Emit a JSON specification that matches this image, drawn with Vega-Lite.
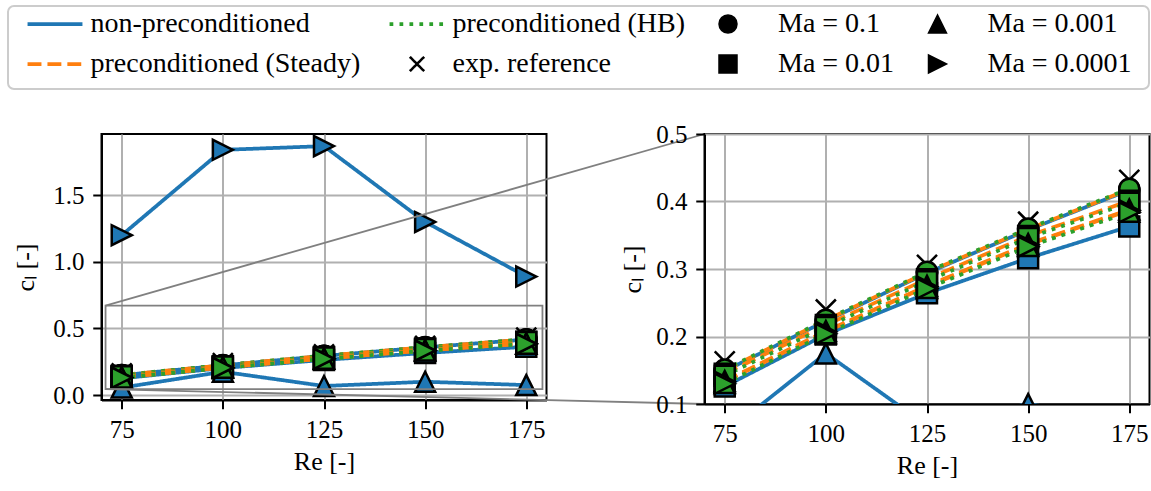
{
  "$schema": "https://vega.github.io/schema/vega-lite/v6.json",
  "padding": 5,
  "background": "white",
  "datasets": {
    "curves": [
      {"method": "non-preconditioned", "Ma": "Ma = 0.1", "Re": 75, "cL": 0.149},
      {"method": "non-preconditioned", "Ma": "Ma = 0.1", "Re": 100, "cL": 0.223},
      {"method": "non-preconditioned", "Ma": "Ma = 0.1", "Re": 125, "cL": 0.294},
      {"method": "non-preconditioned", "Ma": "Ma = 0.1", "Re": 150, "cL": 0.358},
      {"method": "non-preconditioned", "Ma": "Ma = 0.1", "Re": 175, "cL": 0.417},
      {"method": "preconditioned (Steady)", "Ma": "Ma = 0.1", "Re": 75, "cL": 0.150},
      {"method": "preconditioned (Steady)", "Ma": "Ma = 0.1", "Re": 100, "cL": 0.224},
      {"method": "preconditioned (Steady)", "Ma": "Ma = 0.1", "Re": 125, "cL": 0.295},
      {"method": "preconditioned (Steady)", "Ma": "Ma = 0.1", "Re": 150, "cL": 0.359},
      {"method": "preconditioned (Steady)", "Ma": "Ma = 0.1", "Re": 175, "cL": 0.418},
      {"method": "preconditioned (HB)", "Ma": "Ma = 0.1", "Re": 75, "cL": 0.151},
      {"method": "preconditioned (HB)", "Ma": "Ma = 0.1", "Re": 100, "cL": 0.225},
      {"method": "preconditioned (HB)", "Ma": "Ma = 0.1", "Re": 125, "cL": 0.296},
      {"method": "preconditioned (HB)", "Ma": "Ma = 0.1", "Re": 150, "cL": 0.360},
      {"method": "preconditioned (HB)", "Ma": "Ma = 0.1", "Re": 175, "cL": 0.419},
      {"method": "non-preconditioned", "Ma": "Ma = 0.01", "Re": 75, "cL": 0.126},
      {"method": "non-preconditioned", "Ma": "Ma = 0.01", "Re": 100, "cL": 0.203},
      {"method": "non-preconditioned", "Ma": "Ma = 0.01", "Re": 125, "cL": 0.264},
      {"method": "non-preconditioned", "Ma": "Ma = 0.01", "Re": 150, "cL": 0.316},
      {"method": "non-preconditioned", "Ma": "Ma = 0.01", "Re": 175, "cL": 0.363},
      {"method": "preconditioned (Steady)", "Ma": "Ma = 0.01", "Re": 75, "cL": 0.145},
      {"method": "preconditioned (Steady)", "Ma": "Ma = 0.01", "Re": 100, "cL": 0.217},
      {"method": "preconditioned (Steady)", "Ma": "Ma = 0.01", "Re": 125, "cL": 0.285},
      {"method": "preconditioned (Steady)", "Ma": "Ma = 0.01", "Re": 150, "cL": 0.349},
      {"method": "preconditioned (Steady)", "Ma": "Ma = 0.01", "Re": 175, "cL": 0.401},
      {"method": "preconditioned (HB)", "Ma": "Ma = 0.01", "Re": 75, "cL": 0.142},
      {"method": "preconditioned (HB)", "Ma": "Ma = 0.01", "Re": 100, "cL": 0.214},
      {"method": "preconditioned (HB)", "Ma": "Ma = 0.01", "Re": 125, "cL": 0.282},
      {"method": "preconditioned (HB)", "Ma": "Ma = 0.01", "Re": 150, "cL": 0.346},
      {"method": "preconditioned (HB)", "Ma": "Ma = 0.01", "Re": 175, "cL": 0.398},
      {"method": "non-preconditioned", "Ma": "Ma = 0.001", "Re": 75, "cL": 0.056},
      {"method": "non-preconditioned", "Ma": "Ma = 0.001", "Re": 100, "cL": 0.175},
      {"method": "non-preconditioned", "Ma": "Ma = 0.001", "Re": 125, "cL": 0.068},
      {"method": "non-preconditioned", "Ma": "Ma = 0.001", "Re": 150, "cL": 0.100},
      {"method": "non-preconditioned", "Ma": "Ma = 0.001", "Re": 175, "cL": 0.075},
      {"method": "preconditioned (Steady)", "Ma": "Ma = 0.001", "Re": 75, "cL": 0.134},
      {"method": "preconditioned (Steady)", "Ma": "Ma = 0.001", "Re": 100, "cL": 0.208},
      {"method": "preconditioned (Steady)", "Ma": "Ma = 0.001", "Re": 125, "cL": 0.275},
      {"method": "preconditioned (Steady)", "Ma": "Ma = 0.001", "Re": 150, "cL": 0.337},
      {"method": "preconditioned (Steady)", "Ma": "Ma = 0.001", "Re": 175, "cL": 0.388},
      {"method": "preconditioned (HB)", "Ma": "Ma = 0.001", "Re": 75, "cL": 0.131},
      {"method": "preconditioned (HB)", "Ma": "Ma = 0.001", "Re": 100, "cL": 0.205},
      {"method": "preconditioned (HB)", "Ma": "Ma = 0.001", "Re": 125, "cL": 0.272},
      {"method": "preconditioned (HB)", "Ma": "Ma = 0.001", "Re": 150, "cL": 0.334},
      {"method": "preconditioned (HB)", "Ma": "Ma = 0.001", "Re": 175, "cL": 0.385},
      {"method": "non-preconditioned", "Ma": "Ma = 0.0001", "Re": 75, "cL": 1.200},
      {"method": "non-preconditioned", "Ma": "Ma = 0.0001", "Re": 100, "cL": 1.841},
      {"method": "non-preconditioned", "Ma": "Ma = 0.0001", "Re": 125, "cL": 1.869},
      {"method": "non-preconditioned", "Ma": "Ma = 0.0001", "Re": 150, "cL": 1.300},
      {"method": "non-preconditioned", "Ma": "Ma = 0.0001", "Re": 175, "cL": 0.890},
      {"method": "preconditioned (Steady)", "Ma": "Ma = 0.0001", "Re": 75, "cL": 0.133},
      {"method": "preconditioned (Steady)", "Ma": "Ma = 0.0001", "Re": 100, "cL": 0.207},
      {"method": "preconditioned (Steady)", "Ma": "Ma = 0.0001", "Re": 125, "cL": 0.274},
      {"method": "preconditioned (Steady)", "Ma": "Ma = 0.0001", "Re": 150, "cL": 0.336},
      {"method": "preconditioned (Steady)", "Ma": "Ma = 0.0001", "Re": 175, "cL": 0.387},
      {"method": "preconditioned (HB)", "Ma": "Ma = 0.0001", "Re": 75, "cL": 0.130},
      {"method": "preconditioned (HB)", "Ma": "Ma = 0.0001", "Re": 100, "cL": 0.204},
      {"method": "preconditioned (HB)", "Ma": "Ma = 0.0001", "Re": 125, "cL": 0.271},
      {"method": "preconditioned (HB)", "Ma": "Ma = 0.0001", "Re": 150, "cL": 0.333},
      {"method": "preconditioned (HB)", "Ma": "Ma = 0.0001", "Re": 175, "cL": 0.384}
    ],
    "exp": [
      {"method": "exp. reference", "Re": 75, "cL": 0.163},
      {"method": "exp. reference", "Re": 100, "cL": 0.240},
      {"method": "exp. reference", "Re": 125, "cL": 0.306},
      {"method": "exp. reference", "Re": 150, "cL": 0.370},
      {"method": "exp. reference", "Re": 175, "cL": 0.432}
    ],
    "inset": [
      {"Re": 71, "Re2": 179, "cL": 0.045, "cL2": 0.672}
    ],
    "connectors": [
      {"Re": 71, "cL": 0.672, "Re2": 219.06, "cL2": 1.96},
      {"Re": 71, "cL": 0.045, "Re2": 219.06, "cL2": -0.067}
    ]
  },
  "config": {
    "font": "Liberation Serif",
    "view": {"stroke": "black", "strokeWidth": 2},
    "axis": {
      "domainColor": "black", "domainWidth": 2,
      "tickColor": "black", "tickWidth": 2, "tickSize": 8.75,
      "labelPadding": 8.75, "labelFont": "Liberation Serif", "labelFontSize": 25, "labelColor": "black",
      "titleFont": "Liberation Serif", "titleFontSize": 26, "titleFontWeight": "normal", "titleColor": "black",
      "gridColor": "#b0b0b0", "gridWidth": 2, "gridOpacity": 1,
      "labelFlush": false, "labelOverlap": false
    }
  },
  "columns": 1,
  "align": "none",
  "spacing": 31,
  "concat": [
    {
      "width": 1141,
      "height": 83,
      "data": {"values": [{}]},
      "mark": {"type": "point", "opacity": 0},
      "encoding": {},
      "view": {"stroke": "#cccccc", "strokeWidth": 2, "cornerRadius": 6, "fill": "white"}
    },
    {
      "bounds": "flush",
      "spacing": 92.5,
      "hconcat": [
        {
          "width": 1,
          "height": 1,
          "data": {"values": [{}]},
          "mark": {"type": "point", "opacity": 0},
          "encoding": {},
          "view": {"stroke": "transparent", "fill": "transparent"}
        },
        {
          "bounds": "flush",
          "spacing": 158,
          "hconcat": [
            {
              "width": 445,
              "height": 266,
              "encoding": {
                "x": {"field": "Re", "type": "quantitative", "scale": {"domain": [70, 180], "nice": false, "zero": false},
                      "axis": {"values": [75, 100, 125, 150, 175], "title": "Re [-]", "titlePadding": 6}},
                "y": {"field": "cL", "type": "quantitative", "scale": {"domain": [-0.037, 1.96], "nice": false, "zero": false},
                      "axis": {"values": [0, 0.5, 1, 1.5], "format": ".1f", "title": "cₗ [-]", "titlePadding": 14}},
                "color": {"field": "method", "type": "nominal",
                  "scale": {"domain": ["non-preconditioned", "preconditioned (Steady)", "preconditioned (HB)", "exp. reference"],
                            "range": ["#1f77b4", "#ff7f0e", "#2ca02c", "black"]},
                  "legend": {"orient": "none", "legendX": 33, "legendY": 4, "columns": 2, "title": null,
                    "symbolSize": 324, "labelFont": "Liberation Serif", "labelFontSize": 28, "labelColor": "black",
                    "labelOffset": 21.5, "columnPadding": 21, "rowPadding": 12, "labelLimit": 500,
                    "encode": {"symbols": {"update": {
                      "shape": {"signal": "datum.value === 'exp. reference' ? 'M-0.8,-0.8L0.8,0.8M-0.8,0.8L0.8,-0.8' : 'M-3.05,0L3.05,0'"},
                      "strokeWidth": {"signal": "datum.value === 'exp. reference' ? 2.5 : 3.75"},
                      "stroke": {"scale": "color", "field": "value"},
                      "strokeDash": {"scale": "strokeDash", "field": "value"},
                      "fill": {"value": "transparent"},
                      "opacity": {"value": 1}
                    }}}}}
              },
              "layer": [
                {"data": {"name": "exp"},
                 "mark": {"type": "point", "shape": "M-1,-1L1,1M-1,1L1,-1", "filled": false, "size": 400, "strokeWidth": 2.5, "opacity": 1}},
                {"data": {"name": "curves"},
                 "mark": {"type": "line", "strokeWidth": 3.75, "strokeCap": "butt", "strokeJoin": "round"},
                 "encoding": {
                   "strokeDash": {"field": "method", "type": "nominal",
                     "scale": {"domain": ["non-preconditioned", "preconditioned (Steady)", "preconditioned (HB)", "exp. reference"],
                               "range": [[1, 0], [13.9, 6], [3.75, 6.2], [1, 0]]}, "legend": null},
                   "detail": {"field": "Ma", "type": "nominal"}}},
                {"data": {"name": "curves"},
                 "mark": {"type": "point", "filled": true, "size": 400, "stroke": "black", "strokeWidth": 2.5, "opacity": 1},
                 "encoding": {
                   "shape": {"field": "Ma", "type": "nominal",
                     "scale": {"domain": ["Ma = 0.1", "Ma = 0.01", "Ma = 0.001", "Ma = 0.0001"],
                               "range": ["circle", "square", "M0,-1L-1,1L1,1Z", "M1,0L-1,-1L-1,1Z"]},
                     "legend": {"orient": "none", "legendX": 706, "legendY": 4, "columns": 2, "title": null,
                       "symbolSize": 324, "labelFont": "Liberation Serif", "labelFontSize": 28, "labelColor": "black",
                       "labelOffset": 36, "columnPadding": 28.5, "rowPadding": 12, "labelLimit": 500,
                       "encode": {"symbols": {"update": {
                         "fill": {"value": "black"}, "stroke": {"value": "black"}, "strokeWidth": {"value": 0}, "opacity": {"value": 1}
                       }}}}}}},
                {"data": {"name": "inset"},
                 "mark": {"type": "rect", "filled": false, "strokeWidth": 1.8},
                 "encoding": {"color": {"value": "#808080"}, "x2": {"field": "Re2"}, "y2": {"field": "cL2"}}},
                {"data": {"name": "connectors"},
                 "mark": {"type": "rule", "clip": false, "strokeWidth": 1.8},
                 "encoding": {"color": {"value": "#808080"}, "x2": {"field": "Re2"}, "y2": {"field": "cL2"}}}
              ]
            },
            {
              "width": 445,
              "height": 270,
              "encoding": {
                "x": {"field": "Re", "type": "quantitative", "scale": {"domain": [70, 180], "nice": false, "zero": false},
                      "axis": {"values": [75, 100, 125, 150, 175], "title": "Re [-]", "titlePadding": 6}},
                "y": {"field": "cL", "type": "quantitative", "scale": {"domain": [0.1, 0.5], "nice": false, "zero": false},
                      "axis": {"values": [0.1, 0.2, 0.3, 0.4, 0.5], "format": ".1f", "title": "cₗ [-]", "titlePadding": 10}},
                "color": {"field": "method", "type": "nominal",
                  "scale": {"domain": ["non-preconditioned", "preconditioned (Steady)", "preconditioned (HB)", "exp. reference"],
                            "range": ["#1f77b4", "#ff7f0e", "#2ca02c", "black"]}}
              },
              "layer": [
                {"data": {"name": "exp"},
                 "mark": {"type": "point", "clip": true, "shape": "M-1,-1L1,1M-1,1L1,-1", "filled": false, "size": 400, "strokeWidth": 2.5, "opacity": 1}},
                {"data": {"name": "curves"},
                 "mark": {"type": "line", "clip": true, "strokeWidth": 3.75, "strokeCap": "butt", "strokeJoin": "round"},
                 "encoding": {
                   "strokeDash": {"field": "method", "type": "nominal",
                     "scale": {"domain": ["non-preconditioned", "preconditioned (Steady)", "preconditioned (HB)", "exp. reference"],
                               "range": [[1, 0], [13.9, 6], [3.75, 6.2], [1, 0]]}, "legend": null},
                   "detail": {"field": "Ma", "type": "nominal"}}},
                {"data": {"name": "curves"},
                 "mark": {"type": "point", "clip": true, "filled": true, "size": 400, "stroke": "black", "strokeWidth": 2.5, "opacity": 1},
                 "encoding": {
                   "shape": {"field": "Ma", "type": "nominal",
                     "scale": {"domain": ["Ma = 0.1", "Ma = 0.01", "Ma = 0.001", "Ma = 0.0001"],
                               "range": ["circle", "square", "M0,-1L-1,1L1,1Z", "M1,0L-1,-1L-1,1Z"]}}}}
              ]
            }
          ]
        }
      ]
    }
  ]
}
